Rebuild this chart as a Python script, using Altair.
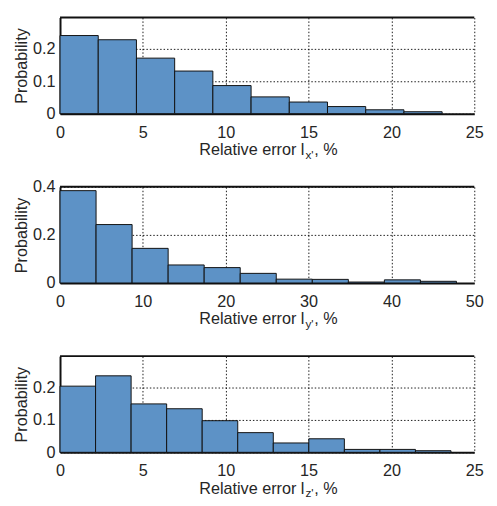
import altair as alt
import pandas as pd

FONT = "Liberation Sans"
FILL = "#5d92c6"
TXT = "#262626"

# ---- data ----
bin_width = [2.306, 4.35, 2.145]
prob_x = [0.242, 0.229, 0.172, 0.132, 0.087, 0.052, 0.036, 0.022, 0.012, 0.006]
prob_y = [0.384, 0.243, 0.144, 0.075, 0.064, 0.040, 0.016, 0.015, 0.004, 0.013, 0.007]
prob_z = [0.205, 0.237, 0.150, 0.135, 0.098, 0.061, 0.029, 0.042, 0.009, 0.009, 0.005]
probs = [prob_x, prob_y, prob_z]

x_max = [25, 50, 25]
y_max = [0.298, 0.4, 0.298]
x_ticks = [[0, 5, 10, 15, 20, 25], [0, 10, 20, 30, 40, 50], [0, 5, 10, 15, 20, 25]]
y_ticks = [[0, 0.1, 0.2], [0, 0.2, 0.4], [0, 0.1, 0.2]]
subscripts = ["x'", "y'", "z'"]
label_main = "Relative error l"
label_tail = ", %"
y_title = "Probability"

W, H = 422, 98


def panel(k):
    p = probs[k]
    bw = bin_width[k]
    df = pd.DataFrame({
        "start": [i * bw for i in range(len(p))],
        "end": [(i + 1) * bw for i in range(len(p))],
        "p": p,
    })
    bars = alt.Chart(df).mark_rect(fill=FILL, stroke="#111111", strokeWidth=1).encode(
        x=alt.X("start:Q",
                scale=alt.Scale(domain=[0, x_max[k]], nice=False, zero=True),
                axis=alt.Axis(values=x_ticks[k], title=None, format="d",
                              labelPadding=11)),
        x2="end:Q",
        y=alt.Y("p:Q",
                scale=alt.Scale(domain=[0, y_max[k]], nice=False),
                axis=alt.Axis(values=y_ticks[k], title=y_title, format="~g",
                              labelPadding=5, titlePadding=3)),
        y2=alt.datum(0),
    )
    lab = pd.DataFrame({"main": [label_main], "sub": [subscripts[k]], "tail": [label_tail]})
    base = alt.Chart(lab)
    t_main = base.mark_text(align="right", baseline="alphabetic", fontSize=16.5,
                            font=FONT, color=TXT).encode(
        x=alt.value(249), y=alt.value(H + 42), text="main:N")
    t_sub = base.mark_text(align="left", baseline="alphabetic", fontSize=12,
                           font=FONT, color=TXT).encode(
        x=alt.value(250), y=alt.value(H + 46), text="sub:N")
    t_tail = base.mark_text(align="left", baseline="alphabetic", fontSize=16.5,
                            font=FONT, color=TXT).encode(
        x=alt.value(259), y=alt.value(H + 42), text="tail:N")
    top = base.mark_rule(color="#111111", strokeWidth=2).encode(
        x=alt.value(0), x2=alt.value(W), y=alt.value(0))
    return alt.layer(bars, top, t_main, t_sub, t_tail).properties(width=W, height=H)


chart = alt.vconcat(panel(0), panel(1), panel(2), spacing=74.5, bounds="flush").properties(
    padding={"left": 6, "top": 4, "right": 5, "bottom": 0}
).configure_view(stroke=None).configure_axis(
    labelFont=FONT, labelFontSize=16.5, labelColor=TXT,
    titleFont=FONT, titleFontSize=16.5, titleColor=TXT, titleFontWeight="normal",
    ticks=False, tickSize=0,
    domainColor="#111111", domainWidth=2,
    grid=True, gridColor="#000000", gridDash=[1.5, 2], gridOpacity=0.9, gridWidth=1,
    labelFlush=False, labelOverlap=False, zindex=1,
)

chart.save("out.html", embed_options={"renderer": "svg", "actions": False})
